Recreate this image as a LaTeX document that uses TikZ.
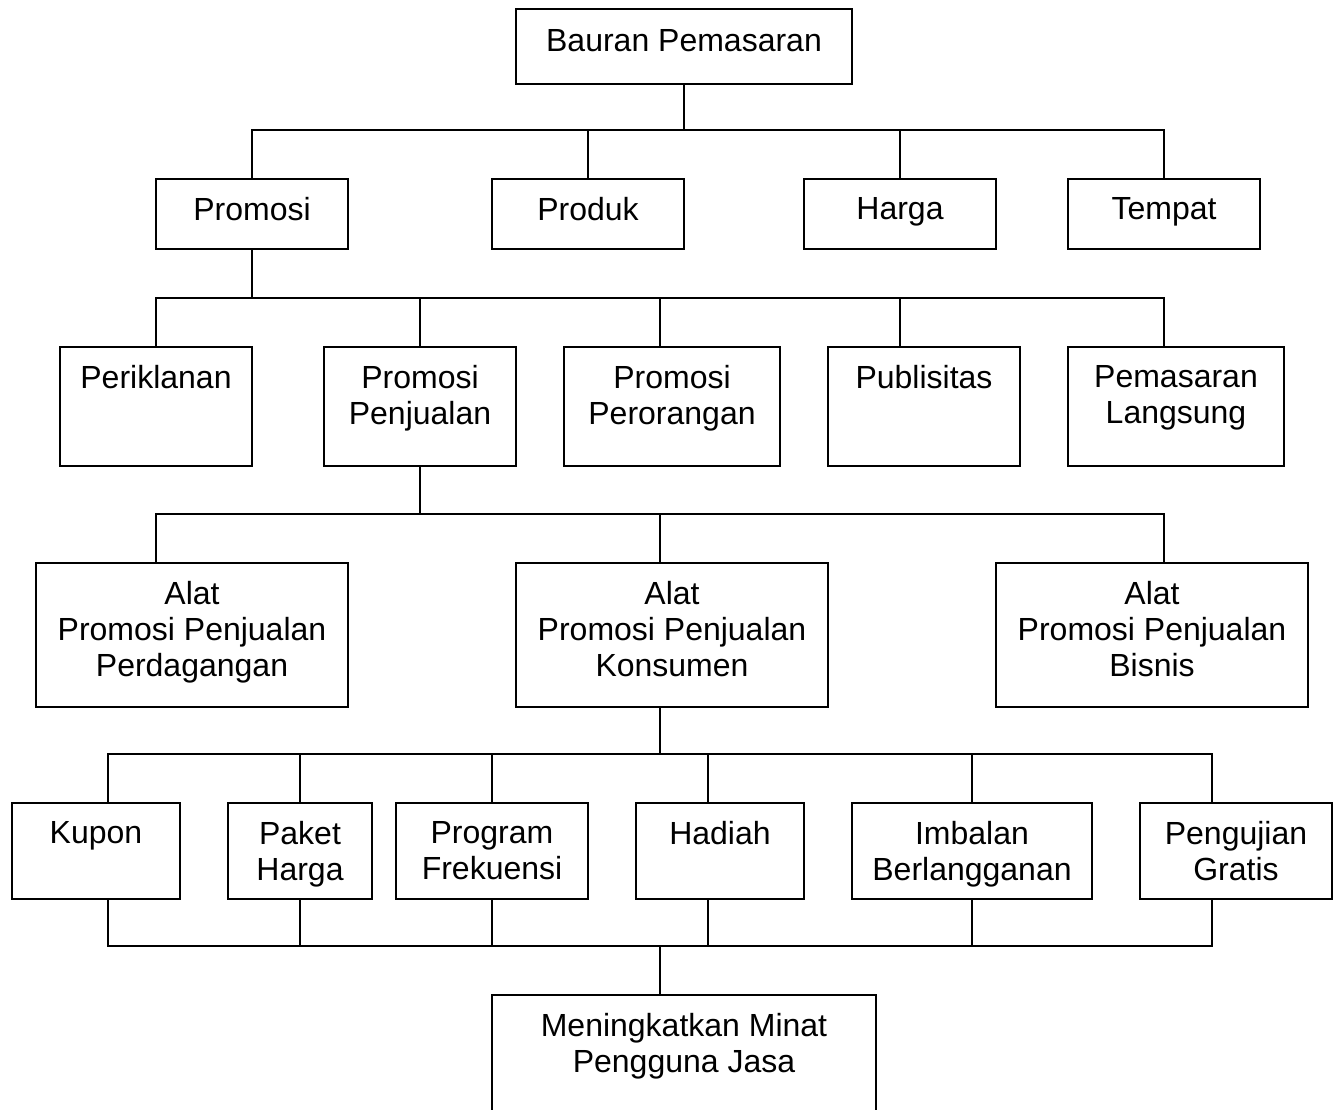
\documentclass[tikz,border=0pt]{standalone}
\usepackage{fontspec}
\setmainfont{Liberation Sans}
\usetikzlibrary{calc}
\tikzset{every picture/.style={line width=2pt}}
\tikzset{
  box/.style={draw, rectangle, anchor=north west, inner sep=0pt},
  txt/.style={anchor=north, inner sep=0pt, align=center, font=\fontsize{32}{36}\selectfont}
}

\begin{document}
\begin{tikzpicture}[x=1pt,y=1pt,yscale=-1,xscale=1]
\clip (0,0) rectangle (1338,1109);

%Shape: boxes, top level
\node[box, minimum width=336, minimum height=75] (bauran) at (515,8) {};
\node[box, minimum width=192, minimum height=70] (promosi) at (155,178) {};
\node[box, minimum width=192, minimum height=70] (produk) at (491,178) {};
\node[box, minimum width=192, minimum height=70] (harga) at (803,178) {};
\node[box, minimum width=192, minimum height=70] (tempat) at (1067,178) {};
%Shape: boxes, promosi
\node[box, minimum width=192, minimum height=119] (periklanan) at (59,346) {};
\node[box, minimum width=192, minimum height=119] (penjualan) at (323,346) {};
\node[box, minimum width=216, minimum height=119] (perorangan) at (563,346) {};
\node[box, minimum width=192, minimum height=119] (publisitas) at (827,346) {};
\node[box, minimum width=216, minimum height=119] (langsung) at (1067,346) {};
%Shape: boxes, alat
\node[box, minimum width=312, minimum height=144] (perdagangan) at (35,562) {};
\node[box, minimum width=312, minimum height=144] (konsumen) at (515,562) {};
\node[box, minimum width=312, minimum height=144] (bisnis) at (995,562) {};
%Shape: boxes, konsumen
\node[box, minimum width=168, minimum height=96] (kupon) at (11,802) {};
\node[box, minimum width=144, minimum height=96] (paket) at (227,802) {};
\node[box, minimum width=192, minimum height=96] (program) at (395,802) {};
\node[box, minimum width=168, minimum height=96] (hadiah) at (635,802) {};
\node[box, minimum width=240, minimum height=96] (imbalan) at (851,802) {};
\node[box, minimum width=192, minimum height=96] (pengujian) at (1139,802) {};
%Shape: box, bottom (cut by the page)
\node[box, minimum width=384, minimum height=140] (minat) at (491,994) {};

% Text Node
\node[txt] (bauran-t) at ($(bauran.north)+(0,20)$) {Bauran Pemasaran};
\node[txt] (promosi-t) at ($(promosi.north)+(0,18)$) {Promosi};
\node[txt] (produk-t) at ($(produk.north)+(0,18)$) {Produk};
\node[txt] (harga-t) at ($(harga.north)+(0,18)$) {Harga};
\node[txt] (tempat-t) at ($(tempat.north)+(0,18)$) {Tempat};
\node[txt] (periklanan-t) at ($(periklanan.north)+(0,18)$) {Periklanan};
\node[txt] (penjualan-t) at ($(penjualan.north)+(0,18)$) {Promosi\\Penjualan};
\node[txt] (perorangan-t) at ($(perorangan.north)+(0,18)$) {Promosi\\Perorangan};
\node[txt] (publisitas-t) at ($(publisitas.north)+(0,18)$) {Publisitas};
\node[txt] (langsung-t) at ($(langsung.north)+(0,18)$) {Pemasaran\\Langsung};
\node[txt] (perdagangan-t) at ($(perdagangan.north)+(0,18)$) {Alat\\Promosi Penjualan\\Perdagangan};
\node[txt] (konsumen-t) at ($(konsumen.north)+(0,18)$) {Alat\\Promosi Penjualan\\Konsumen};
\node[txt] (bisnis-t) at ($(bisnis.north)+(0,18)$) {Alat\\Promosi Penjualan\\Bisnis};
\node[txt] (kupon-t) at ($(kupon.north)+(0,18)$) {Kupon};
\node[txt] (paket-t) at ($(paket.north)+(0,18)$) {Paket\\Harga};
\node[txt] (program-t) at ($(program.north)+(0,18)$) {Program\\Frekuensi};
\node[txt] (hadiah-t) at ($(hadiah.north)+(0,18)$) {Hadiah};
\node[txt] (imbalan-t) at ($(imbalan.north)+(0,18)$) {Imbalan\\Berlangganan};
\node[txt] (pengujian-t) at ($(pengujian.north)+(0,18)$) {Pengujian\\Gratis};
\node[txt] (minat-t) at ($(minat.north)+(0,18)$) {Meningkatkan Minat\\Pengguna Jasa};

% bus heights
\coordinate (bus1) at (0,130);
\coordinate (bus2) at (0,298);
\coordinate (bus3) at (0,514);
\coordinate (bus4) at (0,754);
\coordinate (bus5) at (0,946);
% connector ends that are off the box centre
\coordinate (perorangan-in) at ($(perorangan.north)+(-12,0)$);
\coordinate (publisitas-in) at ($(publisitas.north)+(-24,0)$);
\coordinate (langsung-in) at ($(langsung.north)+(-12,0)$);
\coordinate (perdagangan-in) at ($(perdagangan.north)+(-36,0)$);
\coordinate (konsumen-in) at ($(konsumen.north)+(-12,0)$);
\coordinate (bisnis-in) at ($(bisnis.north)+(12,0)$);
\coordinate (konsumen-out) at ($(konsumen.south)+(-12,0)$);
\coordinate (kupon-in) at ($(kupon.north)+(12,0)$);
\coordinate (kupon-out) at ($(kupon.south)+(12,0)$);
\coordinate (hadiah-in) at ($(hadiah.north)+(-12,0)$);
\coordinate (hadiah-out) at ($(hadiah.south)+(-12,0)$);
\coordinate (pengujian-in) at ($(pengujian.north)+(-24,0)$);
\coordinate (pengujian-out) at ($(pengujian.south)+(-24,0)$);
\coordinate (minat-in) at ($(minat.north)+(-24,0)$);

%Straight Lines: bauran
\draw (bauran.south) -- (bauran.south |- bus1);
\draw (promosi.north) |- (tempat.north |- bus1) -- (tempat.north);
\foreach \n in {produk.north, harga.north}
  \draw (\n) -- (\n |- bus1);
%Straight Lines: promosi
\draw (promosi.south) -- (promosi.south |- bus2);
\draw (periklanan.north) |- (langsung-in |- bus2) -- (langsung-in);
\foreach \n in {penjualan.north, perorangan-in, publisitas-in}
  \draw (\n) -- (\n |- bus2);
%Straight Lines: promosi penjualan
\draw (penjualan.south) -- (penjualan.south |- bus3);
\draw (perdagangan-in) |- (bisnis-in |- bus3) -- (bisnis-in);
\draw (konsumen-in) -- (konsumen-in |- bus3);
%Straight Lines: konsumen
\draw (konsumen-out) -- (konsumen-out |- bus4);
\draw (kupon-in) |- (pengujian-in |- bus4) -- (pengujian-in);
\foreach \n in {paket.north, program.north, hadiah-in, imbalan.north}
  \draw (\n) -- (\n |- bus4);
%Straight Lines: to minat
\draw (kupon-out) |- (pengujian-out |- bus5) -- (pengujian-out);
\foreach \n in {paket.south, program.south, hadiah-out, imbalan.south}
  \draw (\n) -- (\n |- bus5);
\draw (minat-in) -- (minat-in |- bus5);

\end{tikzpicture}
\end{document}
